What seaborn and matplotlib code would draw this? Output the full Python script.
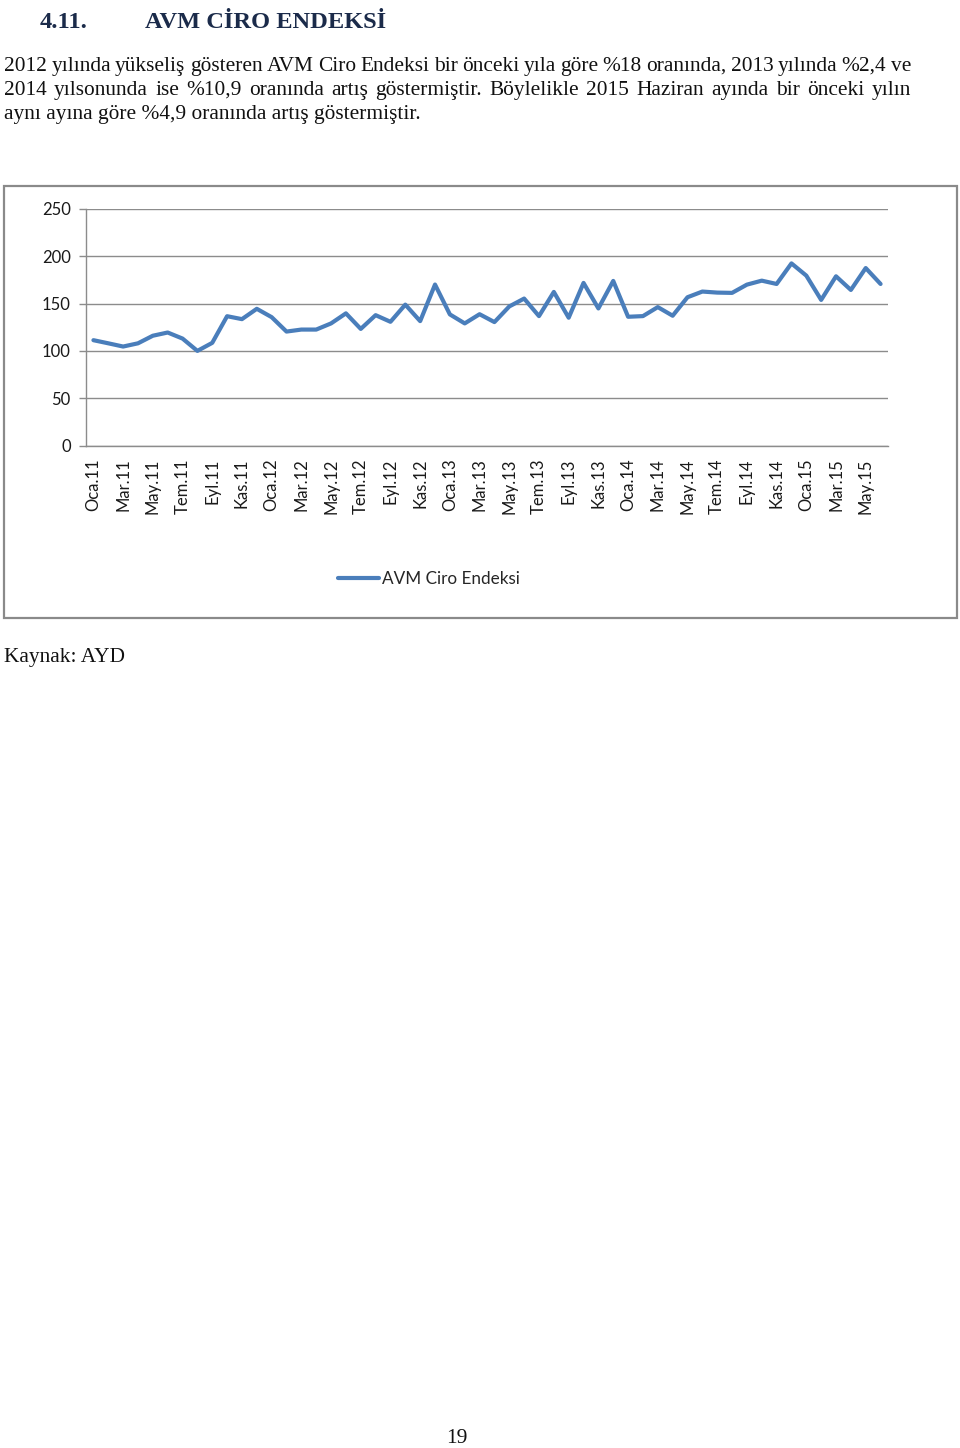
import numpy as np
import pandas as pd
import matplotlib
matplotlib.use("Agg")
import matplotlib.pyplot as plt
import seaborn as sns
from matplotlib.patches import Rectangle
from matplotlib.lines import Line2D

# ---------------- data ----------------
months = ["Oca", "Şub", "Mar", "Nis", "May", "Haz", "Tem", "Ağu", "Eyl", "Eki", "Kas", "Ara"]
years = ["11", "12", "13", "14", "15"]
period_labels = [f"{m}.{y}" for y in years for m in months][:54]  # Oca.11 .. Haz.15

avm_ciro = [
    111.3, 108.0, 104.6, 108.0, 116.0, 119.4, 113.0, 100.0, 108.5, 136.6, 133.5, 144.4,   # 2011
    135.6, 120.4, 122.5, 122.5, 129.0, 139.6, 123.2, 137.7, 130.7, 148.8, 131.4, 170.0,   # 2012
    138.5, 129.0, 138.7, 130.4, 146.9, 155.2, 136.7, 162.2, 135.0, 171.7, 144.8, 173.8,   # 2013
    136.0, 136.7, 146.2, 137.1, 156.6, 162.6, 161.5, 161.2, 169.9, 174.1, 170.6, 192.3,   # 2014
    179.4, 153.8, 178.7, 164.3, 187.4, 170.6,                                           # 2015
]
series_name = "AVM Ciro Endeksi"
y_ticks = [0, 50, 100, 150, 200, 250]

title_num = "4.11."
title_text = "AVM CİRO ENDEKSİ"
para_lines = [
    "2012 yılında yükseliş gösteren AVM Ciro Endeksi bir önceki yıla göre %18 oranında, 2013 yılında %2,4 ve",
    "2014 yılsonunda ise %10,9 oranında artış göstermiştir. Böylelikle 2015 Haziran ayında bir önceki yılın",
    "aynı ayına göre %4,9 oranında artış göstermiştir.",
]
source_text = "Kaynak: AYD"
page_no = "19"

df = pd.DataFrame({"idx": np.arange(len(avm_ciro)), "value": avm_ciro, "series": series_name})

# ---------------- style ----------------
sns.set_theme(style="white")
plt.rcParams["font.family"] = ["Lato", "DejaVu Sans"]

W, H = 960, 1448
fig = plt.figure(figsize=(W / 100, H / 100), dpi=100)
fig.patch.set_facecolor("white")

def fy(y):
    return 1 - y / H

def fx(x):
    return x / W

# chart border box
fig.patches.append(Rectangle((fx(4), fy(618)), fx(957) - fx(4), fy(186) - fy(618),
                             transform=fig.transFigure, fill=False,
                             edgecolor="#8a8a8a", linewidth=1.6))

# axes
x0, x1, ytop, ybot = 86, 888, 208.7, 445.7
ax = fig.add_axes([fx(x0), fy(ybot), fx(x1) - fx(x0), fy(ytop) - fy(ybot)])
sns.lineplot(data=df, x="idx", y="value", hue="series", palette=["#4a7ebb"],
             linewidth=3.0, ax=ax, legend=False)

n = len(avm_ciro)
ax.set_xlim(-0.5, n - 0.5)
ax.set_ylim(0, 250)
ax.set_yticks(y_ticks)
ax.set_yticklabels([str(v) for v in y_ticks], fontsize=12, color="#1a1a1a")
ax.yaxis.grid(True, color="#8c8c8c", linewidth=1.0)
ax.xaxis.grid(False)
ax.set_axisbelow(True)

label_pos = list(range(0, n, 2))
ax.set_xticks(label_pos)
ax.set_xticklabels([period_labels[i] for i in label_pos], rotation=90,
                   fontsize=12, color="#1a1a1a")
ax.set_xticks(np.arange(-0.5, n, 2), minor=True)
ax.tick_params(axis="x", which="major", length=0, pad=9)
ax.tick_params(axis="x", which="minor", length=6, width=1, color="#8c8c8c", direction="out")
ax.tick_params(axis="y", which="major", length=5, width=1, color="#8c8c8c", direction="out", pad=6, left=True)
ax.set_xlabel("")
ax.set_ylabel("")
for s in ["top", "right"]:
    ax.spines[s].set_visible(False)
for s in ["left", "bottom"]:
    ax.spines[s].set_color("#8c8c8c")
    ax.spines[s].set_linewidth(1.0)

# legend
h = [Line2D([0], [0], color="#4a7ebb", lw=3.0)]
fig.legend(h, [series_name], loc="center", bbox_to_anchor=(fx(429), fy(579)),
           frameon=False, fontsize=12.3, handlelength=2.4, handletextpad=0.2)

# ---------------- page text ----------------
renderer = fig.canvas.get_renderer()
serif = ["Liberation Serif", "DejaVu Serif"]

def text_width(s, size, weight="normal"):
    t = fig.text(0, 0, s, fontsize=size, family=serif, weight=weight)
    w = t.get_window_extent(renderer).width
    t.remove()
    return w

# body font size fitted to the last (unjustified) line width
base = 10.0
body_size = base * (417 / text_width(para_lines[2], base))

def draw_justified(line, x_left, x_right, y_base, size):
    words = line.split(" ")
    widths = [text_width(w, size) for w in words]
    gap = (x_right - x_left - sum(widths)) / (len(words) - 1)
    x = x_left
    for w, wd in zip(words, widths):
        fig.text(fx(x), fy(y_base), w, fontsize=size, family=serif,
                 va="baseline", ha="left", color="#111111")
        x += wd + gap

draw_justified(para_lines[0], 4, 911, 71, body_size)
draw_justified(para_lines[1], 4, 911, 95, body_size)
fig.text(fx(4), fy(119), para_lines[2], fontsize=body_size, family=serif,
         va="baseline", ha="left", color="#111111")

# title
title_size = base * (240 / text_width(title_text, base, "bold"))
title_color = "#1b2b4a"
fig.text(fx(40), fy(28), title_num, fontsize=title_size, family=serif, weight="bold",
         va="baseline", ha="left", color=title_color)
fig.text(fx(145), fy(28), title_text, fontsize=title_size, family=serif, weight="bold",
         va="baseline", ha="left", color=title_color)

fig.text(fx(4), fy(662), source_text, fontsize=body_size, family=serif,
         va="baseline", ha="left", color="#111111")
fig.text(fx(457), fy(1443), page_no, fontsize=body_size, family=serif,
         va="baseline", ha="center", color="#111111")

fig.savefig("out.png", dpi=100, facecolor="white")
